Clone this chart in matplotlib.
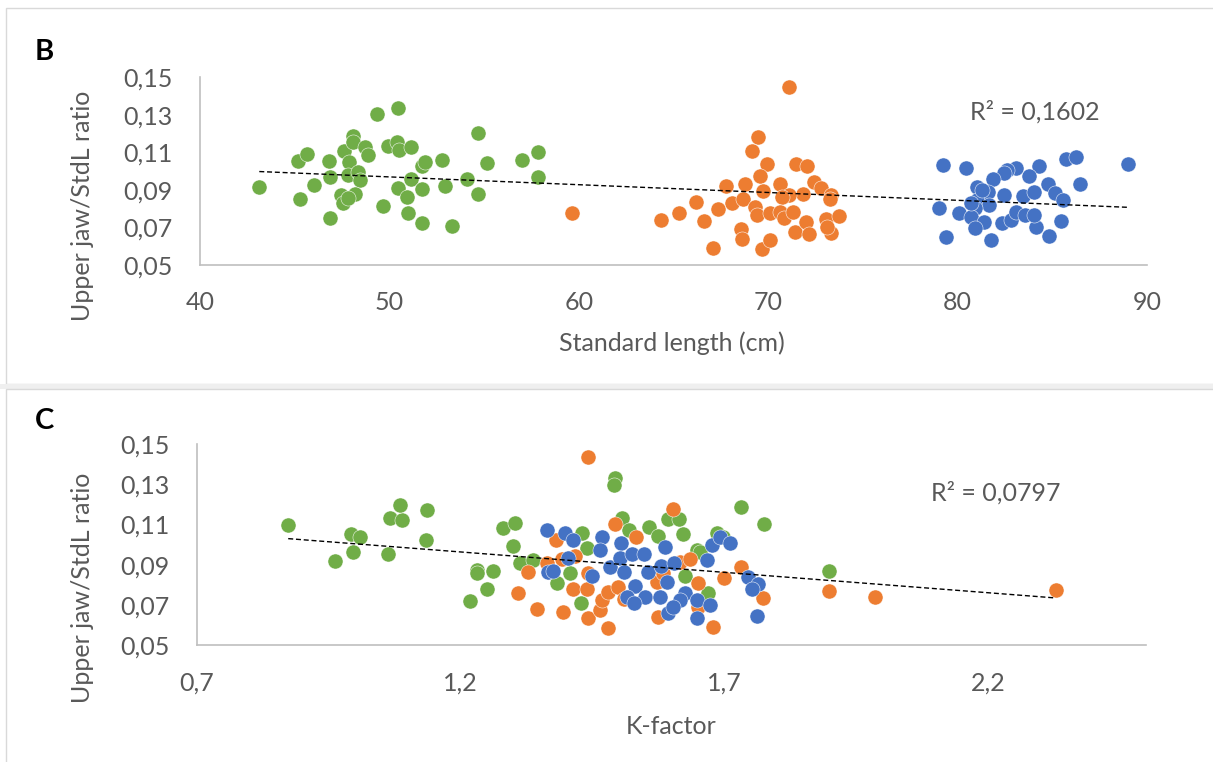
import numpy as np
import matplotlib
matplotlib.use("Agg")
import matplotlib.pyplot as plt
from matplotlib.patches import Rectangle

plt.rcParams['font.family'] = ['Lato', 'DejaVu Sans']

# ---------------- data ----------------
b_green_x = [43.13,45.19,45.67,45.28,46.02,46.83,46.86,46.86,47.60,48.06,48.09,47.88,47.83,48.36,48.45,48.71,48.89,47.44,47.57,48.18,47.83,49.36,50.47,49.94,50.39,50.52,51.12,49.68,50.47,50.91,50.97,51.14,51.71,51.71,51.71,51.88,52.79,52.94,53.32,54.08,54.66,54.69,55.17,57.0,57.86,57.86]
b_green_y = [0.0917,0.1055,0.1089,0.0849,0.0927,0.1055,0.0966,0.0752,0.1108,0.1186,0.1156,0.1049,0.0979,0.0996,0.0952,0.1126,0.1085,0.0872,0.0828,0.0876,0.0855,0.1303,0.1333,0.1133,0.1156,0.1112,0.1129,0.0816,0.0911,0.0860,0.0778,0.0956,0.0904,0.0722,0.1027,0.1049,0.1059,0.0920,0.0709,0.0956,0.0878,0.1204,0.1041,0.1059,0.1103,0.0970]
b_orange_x = [59.63,71.08,69.47,69.17,69.93,69.55,71.49,72.05,67.76,68.75,70.64,69.70,72.43,72.77,71.83,73.34,73.28,71.11,70.73,66.21,68.09,68.66,67.34,69.28,69.41,70.07,70.64,70.83,71.30,64.36,65.27,66.63,68.57,68.61,67.06,69.66,70.07,71.39,72.02,72.15,73.04,73.72,73.34,73.11]
b_orange_y = [0.0775,0.1445,0.1179,0.1106,0.1037,0.0975,0.1036,0.1028,0.0920,0.0931,0.0929,0.0894,0.0943,0.0911,0.0876,0.0872,0.0849,0.0872,0.0863,0.0833,0.0828,0.0849,0.0798,0.0810,0.0766,0.0775,0.0780,0.0748,0.0784,0.0739,0.0775,0.0736,0.0690,0.0637,0.0589,0.0584,0.0633,0.0674,0.0731,0.0665,0.0743,0.0761,0.0672,0.0704]
b_blue_x = [79.22,80.45,88.99,85.73,86.24,86.48,84.31,83.75,83.09,82.61,82.43,81.86,81.01,81.58,82.43,83.46,84.03,84.78,85.16,85.54,81.01,81.67,80.92,79.03,80.07,80.73,81.39,80.92,81.77,79.41,82.33,82.80,83.09,83.56,84.12,84.03,84.82,85.44,81.29,80.73]
b_blue_y = [0.1032,0.1014,0.1036,0.1064,0.1076,0.0931,0.1027,0.0975,0.1014,0.1005,0.0988,0.0956,0.0917,0.0890,0.0872,0.0867,0.0890,0.0931,0.0881,0.0846,0.0846,0.0819,0.0802,0.0802,0.0778,0.0757,0.0727,0.0695,0.0633,0.0647,0.0725,0.0739,0.0784,0.0766,0.0704,0.0766,0.0656,0.0734,0.0899,0.0828]

c_green_x = [0.873,0.993,1.009,0.995,0.962,1.063,1.066,1.088,1.085,1.136,1.134,1.231,1.232,1.261,1.251,1.218,1.280,1.303,1.300,1.313,1.337,1.382,1.408,1.430,1.439,1.428,1.493,1.491,1.506,1.520,1.558,1.574,1.593,1.614,1.622,1.626,1.648,1.731,1.776,1.686,1.698,1.655,1.670,1.899]
c_green_y = [0.1097,0.1052,0.1039,0.0964,0.0918,0.0951,0.1130,0.1122,0.1197,0.1172,0.1022,0.0873,0.0857,0.0870,0.0777,0.0719,0.1084,0.1105,0.0993,0.0906,0.0923,0.0810,0.0860,0.1059,0.0981,0.0707,0.1332,0.1296,0.1130,0.1072,0.1086,0.1042,0.1127,0.1125,0.1051,0.0843,0.0973,0.1185,0.1103,0.1056,0.1039,0.0964,0.0757,0.0868]
c_orange_x = [1.442,1.602,1.493,1.533,1.381,1.363,1.417,1.392,1.327,1.309,1.345,1.395,1.413,1.440,1.442,1.442,1.480,1.464,1.468,1.480,1.499,1.509,1.575,1.573,1.616,1.635,1.651,1.651,1.584,1.732,1.700,1.774,1.679,1.898,1.986,2.329]
c_orange_y = [0.1437,0.1177,0.1100,0.1036,0.1022,0.0909,0.0943,0.0926,0.0865,0.0760,0.0678,0.0666,0.0779,0.0779,0.0857,0.0636,0.0583,0.0674,0.0724,0.0765,0.0787,0.0727,0.0641,0.0815,0.0914,0.0926,0.0807,0.0691,0.0857,0.0890,0.0832,0.0735,0.0588,0.0770,0.0737,0.0774]
c_blue_x = [1.363,1.398,1.414,1.404,1.366,1.376,1.450,1.468,1.464,1.483,1.504,1.502,1.525,1.548,1.509,1.556,1.588,1.581,1.605,1.591,1.531,1.515,1.550,1.528,1.578,1.594,1.626,1.616,1.648,1.648,1.603,1.676,1.692,1.711,1.667,1.746,1.765,1.752,1.762,1.673]
c_blue_y = [0.1072,0.1059,0.1022,0.0931,0.0865,0.0868,0.0843,0.1036,0.0973,0.0890,0.1009,0.0931,0.0953,0.0953,0.0865,0.0865,0.0989,0.0895,0.0906,0.0815,0.0794,0.0740,0.0737,0.0707,0.0740,0.0658,0.0757,0.0724,0.0724,0.0633,0.0691,0.0998,0.1036,0.1009,0.0923,0.0840,0.0802,0.0777,0.0644,0.0699]

b_xticks = [40, 50, 60, 70, 80, 90]
c_xticks = [0.7, 1.2, 1.7, 2.2]
y_ticks = [0.05, 0.07, 0.09, 0.11, 0.13, 0.15]
b_r2_label = "R² = 0,1602"
c_r2_label = "R² = 0,0797"
y_title = "Upper jaw/StdL ratio"
b_x_title = "Standard length (cm)"
c_x_title = "K-factor"

GREEN, ORANGE, BLUE = "#70AD47", "#ED7D31", "#4472C4"
TXT = "#595959"
SPINE = "#BFBFBF"
W, H = 1213, 762

fig = plt.figure(figsize=(W / 100, H / 100), dpi=100)
fig.patch.set_facecolor("white")

def fx(px):
    return px / W

def fy(py):
    return 1 - py / H

# panel frames (behind everything)
fig.patches.append(Rectangle((fx(6), fy(384)), fx(1300), fy(8) - fy(384), transform=fig.transFigure,
                             facecolor="white", edgecolor="#D9D9D9", lw=1.0, zorder=-10))
fig.patches.append(Rectangle((0, fy(389)), 1, fy(384) - fy(389), transform=fig.transFigure,
                             facecolor="#EFEFEF", edgecolor="none", zorder=-10))
fig.patches.append(Rectangle((fx(6), fy(800)), fx(1300), fy(389) - fy(800), transform=fig.transFigure,
                             facecolor="white", edgecolor="#D9D9D9", lw=1.0, zorder=-10))


def fmt(v, nd):
    return f"{v:.{nd}f}".replace(".", ",")


def panel(rect, xs, ys, xlim, xticks, xnd, r2_label, r2_pos, xlabel, xlabel_pos, ylabel_pos):
    ax = fig.add_axes(rect)
    ax.set_zorder(5)
    ax.set_facecolor("none")
    for (x, y, c) in zip(xs, ys, [GREEN, ORANGE, BLUE]):
        ax.scatter(x, y, s=118, color=c, edgecolors="white", linewidths=0.35, zorder=3)
    allx = np.concatenate([np.asarray(v) for v in xs])
    ally = np.concatenate([np.asarray(v) for v in ys])
    k, b = np.polyfit(allx, ally, 1)
    tx = np.array([allx.min(), allx.max()])
    ax.plot(tx, k * tx + b, color="black", lw=1.0, linestyle=(0, (3.6, 2.0)), zorder=4)
    ax.set_xlim(*xlim)
    ax.set_ylim(0.05, 0.15)
    ax.set_xticks(xticks)
    ax.set_xticklabels([fmt(v, xnd) for v in xticks])
    ax.set_yticks(y_ticks)
    ax.set_yticklabels([fmt(v, 2) for v in y_ticks])
    ax.tick_params(length=0, labelsize=18, labelcolor=TXT)
    ax.tick_params(axis="y", pad=20)
    ax.tick_params(axis="x", pad=19)
    for s in ["top", "right"]:
        ax.spines[s].set_visible(False)
    for s in ["left", "bottom"]:
        ax.spines[s].set_color(SPINE)
        ax.spines[s].set_linewidth(1.2)
    fig.text(fx(r2_pos[0]), fy(r2_pos[1]), r2_label, ha="center", va="center", fontsize=18, color=TXT)
    fig.text(fx(xlabel_pos[0]), fy(xlabel_pos[1]), xlabel, ha="center", va="center", fontsize=18, color=TXT)
    fig.text(fx(ylabel_pos[0]), fy(ylabel_pos[1]), y_title, ha="center", va="center", rotation=90,
             fontsize=18, color=TXT)
    return ax


panel([fx(200), fy(265), fx(1147) - fx(200), fy(77) - fy(265)],
      [b_green_x, b_orange_x, b_blue_x], [b_green_y, b_orange_y, b_blue_y],
      (40, 90), b_xticks, 0, b_r2_label, (1035, 112), b_x_title, (672, 343), (82, 206))
panel([fx(197), fy(645), fx(1146) - fx(197), fy(444) - fy(645)],
      [c_green_x, c_orange_x, c_blue_x], [c_green_y, c_orange_y, c_blue_y],
      (0.7, 2.5), c_xticks, 1, c_r2_label, (996, 493), c_x_title, (671, 727), (82, 588))

fig.text(fx(44), fy(52), "B", ha="center", va="center", fontsize=21, fontweight="bold", color="black")
fig.text(fx(44), fy(421), "C", ha="center", va="center", fontsize=21, fontweight="bold", color="black")

fig.savefig("out.png", dpi=100, facecolor=fig.get_facecolor())
